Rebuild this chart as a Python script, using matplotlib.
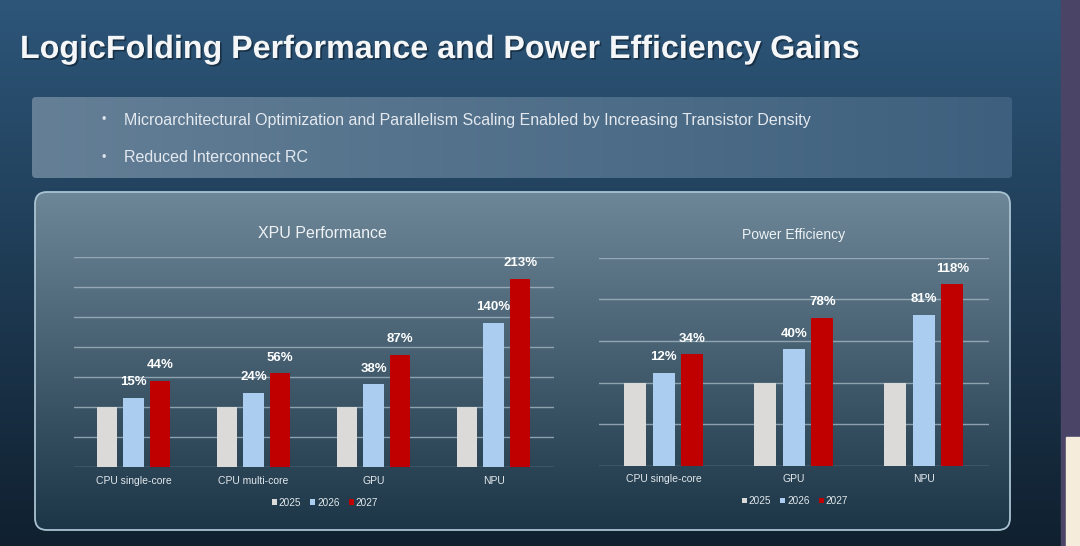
import numpy as np
import matplotlib
matplotlib.use("Agg")
import matplotlib.pyplot as plt
import matplotlib.patheffects as pe
from matplotlib.patches import FancyBboxPatch, Rectangle
from matplotlib.colors import to_rgb

plt.rcParams['font.family'] = ['Liberation Sans', 'DejaVu Sans']

# data: gains over 2025 (2025 = 100 index)
years = ['2025', '2026', '2027']
base = 100

perf_cats = ['CPU single-core', 'CPU multi-core', 'GPU', 'NPU']
perf_2026 = [15, 24, 38, 140]
perf_2027 = [44, 56, 87, 213]

eff_cats = ['CPU single-core', 'GPU', 'NPU']
eff_2026 = [12, 40, 81]
eff_2027 = [34, 78, 118]

title = 'LogicFolding Performance and Power Efficiency Gains'
bullets = ['Microarchitectural Optimization and Parallelism Scaling Enabled by Increasing Transistor Density',
           'Reduced Interconnect RC']

colors = ['#dcdad8', '#aacdf0', '#c00000']
W, H = 1080, 546

fig = plt.figure(figsize=(W / 100, H / 100), dpi=100)

# background layer in pixel coords
bg = fig.add_axes([0, 0, 1, 1], zorder=-5)
bg.set_xlim(0, W)
bg.set_ylim(H, 0)
bg.axis('off')


def vgrad(top, bottom, n=256):
    t = np.linspace(0, 1, n)[:, None]
    c = (1 - t) * np.array(to_rgb(top)) + t * np.array(to_rgb(bottom))
    return c[:, None, :]


def hgrad(left, right, n=256):
    t = np.linspace(0, 1, n)[None, :]
    c = (1 - t[..., None]) * np.array(to_rgb(left)) + t[..., None] * np.array(to_rgb(right))
    return c


bg.imshow(vgrad('#2d5679', '#10202f'), extent=(0, W, H, 0), aspect='auto', zorder=0)
bg.add_patch(Rectangle((1061, 0), 19, H, color='#4a4566', zorder=1))
bg.add_patch(Rectangle((1066, 437), 14, 109, color='#f5ecdc', zorder=2))

# bullet box
box = FancyBboxPatch((32, 97), 980, 81, boxstyle='round,pad=0,rounding_size=4',
                     facecolor='none', edgecolor='none', zorder=2)
bg.add_patch(box)
im = bg.imshow(hgrad('#647f96', '#3e607e'), extent=(32, 1012, 178, 97), aspect='auto', zorder=2)
im.set_clip_path(box)

for i, b in enumerate(bullets):
    y = 120 + i * 38
    bg.text(101, y, '\u2022', color='#dde3ea', fontsize=9, va='center', zorder=3)
    bg.text(124, y, b, color='#e4e9ef', fontsize=11.55, va='center', zorder=3)

bg.text(20, 50, title, color='#f4f6f8', fontsize=23.2, fontweight='bold', va='center', zorder=3,
        path_effects=[pe.withSimplePatchShadow(offset=(1.2, -1.2), shadow_rgbFace='#0d1c2a', alpha=0.6)])

# chart panel
panel = FancyBboxPatch((35, 192), 975, 338, boxstyle='round,pad=0,rounding_size=12',
                       facecolor='none', edgecolor='#a9c3d2', linewidth=1.3, zorder=4)
bg.add_patch(panel)
pim = bg.imshow(vgrad('#6d8798', '#1c3647'), extent=(35, 1010, 530, 192), aspect='auto', zorder=2)
pim.set_clip_path(panel)


def draw(rect, cats, v26, v27, ymax, step, width, ttl, tfs, tx, ty, legx):
    ax = fig.add_axes(rect)
    ax.set_facecolor('none')
    x = np.arange(len(cats))
    series = [[base] * len(cats),
              [base + v for v in v26],
              [base + v for v in v27]]
    gains = [None, v26, v27]
    for k in range(3):
        bars = ax.bar(x + (k - 1) * step, series[k], width, color=colors[k], label=years[k], zorder=3)
        if gains[k] is not None:
            for bar, g in zip(bars, gains[k]):
                ax.annotate(f'{g}%', (bar.get_x() + bar.get_width() / 2, bar.get_height()),
                            xytext=(0, 7), textcoords='offset points', ha='center', va='bottom',
                            color='white', fontsize=9.5, fontweight='bold')
    ax.set_xlim(-0.5, len(cats) - 0.5)
    ax.set_ylim(0, ymax)
    ax.set_yticks(np.arange(0, ymax + 1, 50))
    ax.yaxis.grid(True, color='#a3b5c2', linewidth=1, alpha=0.8, zorder=0)
    ax.set_yticklabels([])
    ax.tick_params(axis='y', length=0)
    ax.set_xticks(x)
    ax.set_xticklabels(cats, color='#e2e8ec', fontsize=7.5)
    ax.tick_params(axis='x', length=0, pad=6)
    for s in ax.spines.values():
        s.set_visible(False)
    leg = ax.legend(loc='center', bbox_to_anchor=(legx, -0.168), ncol=3, frameon=False,
                    fontsize=7.2, handlelength=0.5, handleheight=0.5, handletextpad=0.2,
                    columnspacing=0.9)
    for t in leg.get_texts():
        t.set_color('#e2e8ec')
    fig.text(tx / W, 1 - ty / H, ttl, ha='center', va='center',
             color='#eef2f5', fontsize=tfs)
    return ax


draw([73.5 / W, (H - 467.3) / H, 480 / W, 210.6 / H], perf_cats, perf_2026, perf_2027,
     350, 0.222, 0.171, 'XPU Performance', 11.5, 322, 234, 0.524)
draw([598.8 / W, (H - 466) / H, 390 / W, 208.3 / H], eff_cats, eff_2026, eff_2027,
     250, 0.22, 0.17, 'Power Efficiency', 10, 794, 235, 0.503)

fig.savefig('out.png', dpi=100)
